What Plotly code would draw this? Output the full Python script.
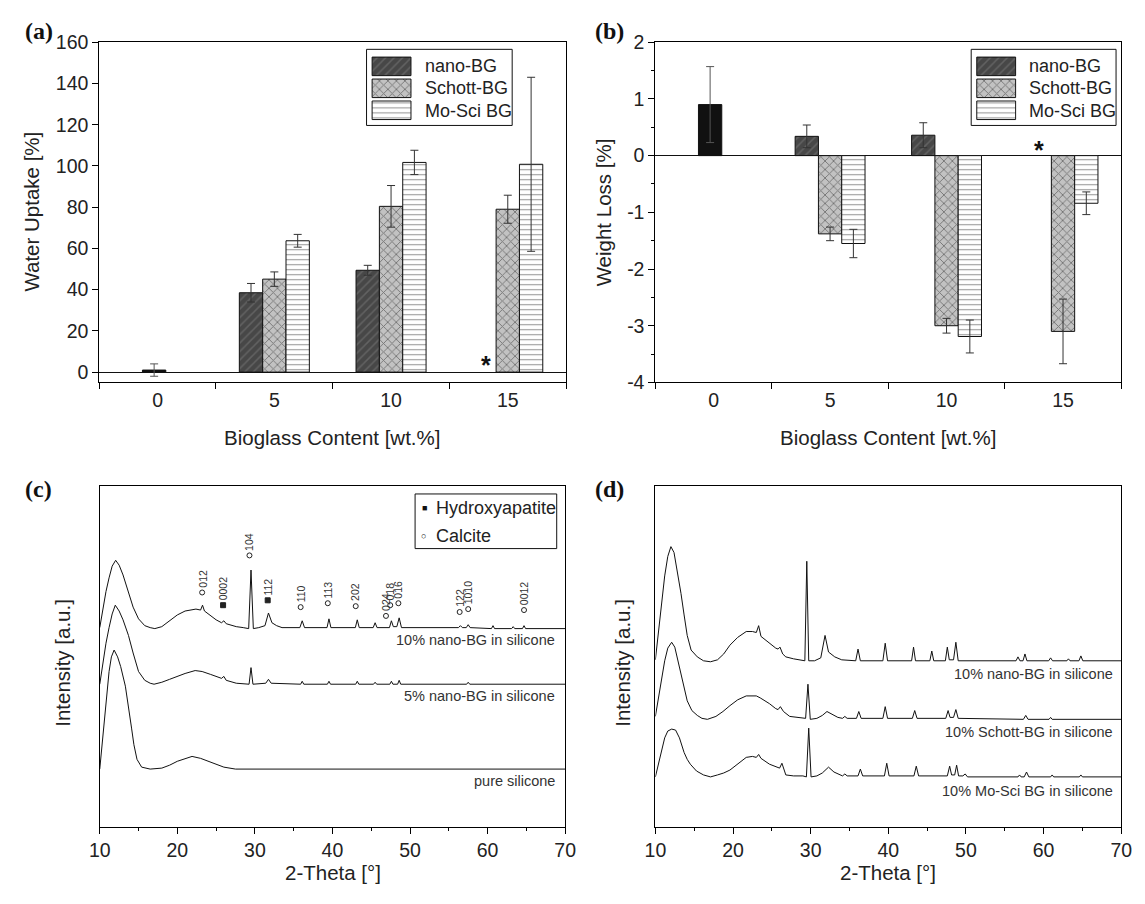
import plotly.graph_objects as go

W, H = 1145, 904
SANS = "Liberation Sans, Arial, sans-serif"
SERIF = "Liberation Serif, Times New Roman, serif"
TXT = "#222222"


def fx(p):
    return p / W


def fy(p):
    return 1 - p / H


# ---------------- (a) water uptake / (b) weight loss ----------------
content = ["0", "5", "10", "15"]
series_names = ["nano-BG", "Schott-BG", "Mo-Sci BG"]

pure_uptake = [1.0]
pure_uptake_err = [3.0]
nano_uptake = [None, 38.5, 49.4, None]
nano_uptake_err = [0, 4.5, 2.4, 0]
schott_uptake = [None, 45.1, 80.4, 79.0]
schott_uptake_err = [0, 3.5, 10.1, 6.8]
mosci_uptake = [None, 63.7, 101.7, 100.8]
mosci_uptake_err = [0, 3.1, 5.9, 42.2]

pure_loss = [0.90]
pure_loss_err = [0.67]
nano_loss = [None, 0.34, 0.36, None]
nano_loss_err = [0, 0.20, 0.22, 0]
schott_loss = [None, -1.38, -3.00, -3.10]
schott_loss_err = [0, 0.12, 0.13, 0.57]
mosci_loss = [None, -1.55, -3.19, -0.84]
mosci_loss_err = [0, 0.25, 0.29, 0.20]

loss_ticks = [-4, -3, -2, -1, 0, 1, 2]
loss_tick_text = ["-4", "-3", "-2", "-1", "0", "1", "2"]

# ---------------- (c) XRD nano-BG content ----------------
c_labels = ["10% nano-BG in silicone", "5% nano-BG in silicone", "pure silicone"]
c10_theta = [10.0, 10.4, 10.8, 11.2, 11.6, 12.05, 12.5, 13.0, 13.7, 14.3, 15.0, 15.8, 16.5, 17.1, 18.0,
             19.0, 20.0, 21.0, 22.4, 23.0, 23.25, 23.5, 24.3, 25.0, 25.7, 26.0, 26.3, 27.0, 27.6, 28.5,
             29.2, 29.5, 29.8, 30.5, 31.3, 31.75, 32.2, 32.8, 33.5, 35.8, 36.1, 36.4, 39.3, 39.55, 39.8,
             42.95, 43.2, 43.45, 45.25, 45.5, 45.75, 47.35, 47.6, 47.85, 48.3, 48.6, 48.9, 56.25, 56.5,
             56.75, 57.25, 57.5, 57.75, 60.5, 60.7, 60.9, 63.1, 63.3, 63.5, 64.5, 64.7, 64.9, 70.0]
c10_int = [1, 20, 38, 52, 64, 70, 65, 55, 37, 22, 10, 3, 1, 0, 2,
           8, 14, 18, 20, 19, 24, 18, 13, 9, 6, 8, 5, 3, 2, 1,
           0, 60, 0, 1, 3, 16, 6, 3, 1, 1, 8, 1, 1, 10, 1,
           1, 9, 1, 1, 6, 1, 1, 8, 2, 2, 11, 1, 1, 3,
           1, 1, 4, 1, 0, 3, 0, 0, 2, 0, 0, 3, 0, 0]
c5_theta = [10.0, 10.4, 10.8, 11.2, 11.6, 12.0, 12.5, 13.0, 13.7, 14.3, 15.0, 15.8, 16.5, 17.0, 18.0,
            19.0, 20.0, 21.0, 22.3, 23.2, 24.3, 25.7, 26.0, 26.3, 27.6, 29.25, 29.5, 29.75, 31.4, 31.75,
            32.1, 35.9, 36.1, 36.3, 39.35, 39.55, 39.75, 43.0, 43.2, 43.4, 45.3, 45.5, 45.7, 47.4, 47.6,
            47.8, 48.4, 48.6, 48.8, 57.3, 57.5, 57.7, 70.0]
c5_int = [0, 22, 42, 58, 72, 81, 75, 66, 50, 32, 13, 4, 1, 0, 2,
          5, 8, 11, 14, 13, 10, 6, 8, 4, 1, 0, 17, 0, 1, 5,
          1, 0, 3, 0, 0, 3, 0, 0, 3, 0, 0, 2, 0, 0, 3,
          0, 0, 4, 0, 0, 2, 0, 0]
c0_theta = [10.0, 10.4, 10.8, 11.2, 11.5, 11.85, 12.3, 12.7, 13.3, 13.7, 14.1, 14.4, 14.8, 15.4, 16.5,
            18.0, 19.0, 20.0, 21.0, 21.9, 23.0, 24.3, 25.2, 26.0, 27.5, 70.0]
c0_int = [0, 35, 70, 100, 115, 122, 115, 105, 85, 65, 42, 25, 10, 2, 0,
          1, 4, 8, 11, 13, 11, 7, 4, 2, 0, 0]
c_offsets = [203, 146, 59]

# calcite (C) / hydroxyapatite (H) reflections marked in (c)
peak_hkl = ["012", "0002", "104", "112", "110", "113", "202", "024", "018", "016", "122", "1010", "0012"]
peak_theta = [23.2, 25.9, 29.3, 31.65, 35.9, 39.4, 43.0, 46.9, 47.45, 48.5, 56.4, 57.5, 64.7]
peak_level = [240, 227, 278, 232, 225, 229, 226, 216, 227, 229, 220, 223, 222]
peak_phase = ["C", "H", "C", "H", "C", "C", "C", "C", "C", "C", "C", "C", "C"]

# ---------------- (d) XRD 10% of each bioglass ----------------
d_labels = ["10% nano-BG in silicone", "10% Schott-BG in silicone", "10% Mo-Sci BG in silicone"]
dn_theta = [10.0, 10.4, 10.8, 11.2, 11.6, 12.0, 12.4, 12.9, 13.3, 13.7, 14.1, 14.6, 15.4, 16.2, 17.1,
            18.0, 18.8, 19.6, 20.6, 21.7, 22.5, 23.0, 23.3, 23.6, 24.5, 25.5, 25.8, 26.05, 26.4, 26.8,
            27.8, 28.9, 29.25, 29.5, 29.75, 30.5, 31.3, 31.85, 32.3, 33.1, 34.0, 35.8, 36.1, 36.4, 39.3,
            39.6, 39.9, 43.0, 43.25, 43.5, 45.35, 45.6, 45.85, 47.35, 47.6, 47.85, 48.4, 48.7, 49.0,
            56.45, 56.7, 56.95, 57.35, 57.6, 57.85, 60.65, 60.9, 61.15, 63.0, 63.2, 63.4, 64.55, 64.8,
            65.05, 70.0]
dn_int = [2, 30, 60, 88, 108, 118, 112, 90, 70, 48, 27, 12, 5, 1, 0,
          2, 8, 17, 25, 31, 31, 30, 37, 26, 20, 14, 13, 15, 8, 5,
          3, 2, 1, 103, 1, 1, 4, 27, 10, 5, 2, 1, 13, 1, 1,
          19, 1, 1, 15, 1, 1, 11, 1, 1, 15, 2, 2, 20, 1,
          1, 5, 1, 1, 8, 1, 1, 4, 1, 1, 3, 1, 1, 6,
          1, 1]
ds_theta = [10.0, 10.4, 10.8, 11.2, 11.6, 12.1, 12.5, 12.9, 13.3, 13.7, 14.1, 14.7, 15.4, 16.0, 16.7,
            17.8, 18.7, 19.6, 20.6, 21.7, 22.5, 23.0, 23.5, 24.7, 25.5, 25.8, 26.1, 26.5, 27.3, 28.5,
            29.35, 29.65, 29.95, 30.8, 31.5, 32.1, 32.8, 33.5, 34.1, 34.4, 34.7, 35.9, 36.2, 36.5, 39.3,
            39.6, 39.9, 43.1, 43.4, 43.7, 47.4, 47.7, 47.95, 48.4, 48.7, 49.0, 57.4, 57.7, 58.0, 60.7,
            60.9, 61.1, 70.0]
ds_int = [3, 22, 42, 60, 73, 79, 74, 60, 46, 32, 19, 9, 4, 1, 0,
          3, 8, 14, 20, 24, 24, 24, 22, 16, 11, 10, 13, 8, 3, 2,
          1, 36, 0, 1, 4, 8, 5, 2, 1, 3, 1, 1, 8, 1, 1,
          13, 1, 1, 9, 1, 1, 9, 2, 2, 10, 1, 0, 4, 0, 0,
          2, 0, 0]
dm_theta = [10.0, 10.4, 10.8, 11.2, 11.6, 12.1, 12.6, 13.1, 13.7, 14.1, 14.5, 15.3, 16.2, 17.1, 18.0,
            18.8, 19.6, 20.6, 21.7, 22.5, 23.0, 23.3, 23.6, 24.7, 25.6, 26.0, 26.3, 26.6, 26.8, 27.8,
            29.0, 29.45, 29.75, 30.05, 30.8, 31.5, 32.3, 33.0, 34.1, 34.4, 34.7, 36.1, 36.4, 36.7, 39.5,
            39.8, 40.1, 43.3, 43.6, 43.9, 47.6, 47.9, 48.15, 48.55, 48.8, 49.05, 49.6, 49.9, 50.2, 56.7,
            56.9, 57.1, 57.5, 57.8, 58.1, 60.9, 61.1, 61.3, 64.6, 64.8, 65.0, 70.0]
dm_int = [0, 14, 28, 40, 47, 49, 48, 40, 25, 18, 13, 6, 2, 0, 2,
          4, 7, 13, 20, 21, 20, 23, 19, 13, 10, 9, 14, 5, 2, 1,
          1, 0, 50, 0, 1, 4, 10, 5, 1, 3, 1, 1, 8, 1, 1,
          14, 1, 1, 11, 1, 1, 11, 2, 2, 12, 1, 1, 3, 0, 0,
          2, 0, 0, 5, 0, 0, 2, 0, 0, 2, 0, 0]
d_offsets = [169, 110, 51]

# ---------------- styles ----------------
styles = [
    dict(color="#474747", line=dict(color="#111111", width=1),
         pattern=dict(shape="/", fgcolor="#7e7e7e", bgcolor="#474747", size=6, solidity=0.25)),
    dict(color="#c2c2c2", line=dict(color="#111111", width=1),
         pattern=dict(shape="x", fgcolor="#262626", bgcolor="#c2c2c2", size=6, solidity=0.28)),
    dict(color="white", line=dict(color="#111111", width=1),
         pattern=dict(shape="-", fgcolor="#333333", bgcolor="white", size=5, solidity=0.22)),
]
offsets = [-0.3, -0.1, 0.1]
err_style = dict(type="data", visible=True, color="#333333", thickness=1, width=4)

fig = go.Figure()

# ---- bars (a) and (b)
for xa, ya, pure, pure_err, vals, errs in [
    ("x", "y", pure_uptake, pure_uptake_err,
     [nano_uptake, schott_uptake, mosci_uptake],
     [nano_uptake_err, schott_uptake_err, mosci_uptake_err]),
    ("x2", "y2", pure_loss, pure_loss_err,
     [nano_loss, schott_loss, mosci_loss],
     [nano_loss_err, schott_loss_err, mosci_loss_err]),
]:
    fig.add_trace(go.Bar(x=content[:1], y=pure, width=0.2, offset=-0.13,
                         marker=dict(color="#111111", line=dict(color="#111111", width=1)),
                         error_y=dict(err_style, array=pure_err, color="#555555"),
                         xaxis=xa, yaxis=ya, name="pure silicone"))
    for i in range(3):
        fig.add_trace(go.Bar(x=content, y=vals[i], width=0.2, offset=offsets[i],
                             marker=styles[i], error_y=dict(err_style, array=errs[i]),
                             xaxis=xa, yaxis=ya, name=series_names[i]))

# ---- legend swatches for (a) and (b)
for xa, ya in [("x5", "y5"), ("x6", "y6")]:
    for i in range(3):
        fig.add_trace(go.Bar(x=[1], y=[i], orientation="h", width=0.845, marker=styles[i],
                             xaxis=xa, yaxis=ya, hoverinfo="skip", name=series_names[i]))

# ---- XRD curves
for th, it, off, lab in zip([c10_theta, c5_theta, c0_theta], [c10_int, c5_int, c0_int], c_offsets, c_labels):
    fig.add_trace(go.Scatter(x=th, y=[off + v for v in it], mode="lines",
                             line=dict(color="#111111", width=1), xaxis="x3", yaxis="y3", name=lab))
for th, it, off, lab in zip([dn_theta, ds_theta, dm_theta], [dn_int, ds_int, dm_int], d_offsets, d_labels):
    fig.add_trace(go.Scatter(x=th, y=[off + v for v in it], mode="lines",
                             line=dict(color="#111111", width=1), xaxis="x4", yaxis="y4", name=lab))

# ---- reflection markers
fig.add_trace(go.Scatter(
    x=peak_theta, y=peak_level, mode="markers", xaxis="x3", yaxis="y3", name="reflections",
    marker=dict(symbol=["square" if p == "H" else "circle-open" for p in peak_phase],
                size=5, color="#222222", line=dict(color="#222222", width=1))))

annotations = []


def ann(x, y, text, size, xanchor="center", yanchor="middle", angle=0, color=TXT, family=SANS,
        xref="paper", yref="paper", **kw):
    annotations.append(dict(x=x, y=y, xref=xref, yref=yref, text=text, showarrow=False,
                            xanchor=xanchor, yanchor=yanchor, textangle=angle,
                            font=dict(family=family, size=size, color=color), **kw))


# panel letters
ann(fx(12), fy(20), "<b>(a)</b>", 24, xanchor="left", family=SERIF, color="#111")
ann(fx(593), fy(20), "<b>(b)</b>", 24, xanchor="left", family=SERIF, color="#111")
ann(fx(12), fy(490), "<b>(c)</b>", 24, xanchor="left", family=SERIF, color="#111")
ann(fx(593), fy(490), "<b>(d)</b>", 24, xanchor="left", family=SERIF, color="#111")

# axis titles
ann(fx(328), fy(437), "Bioglass Content [wt.%]", 20.5)
ann(fx(894.5), fy(437), "Bioglass Content [wt.%]", 20.5)
ann(fx(328), fy(883), "2-Theta [°]", 20.5)
ann(fx(894.5), fy(883), "2-Theta [°]", 20.5)
ann(fx(21), fy(206), "Water Uptake [%]", 20.5, angle=-90)
ann(fx(605), fy(206), "Weight Loss [%]", 20.5, angle=-90)
ann(fx(53), fy(668), "Intensity [a.u.]", 20.5, angle=-90)
ann(fx(624), fy(668), "Intensity [a.u.]", 20.5, angle=-90)

# legends (a), (b)
for tx in [420, 1036.4]:
    for i, yy in enumerate([56, 79, 102]):
        ann(fx(tx), fy(yy), series_names[i], 18, xanchor="left")

# legend (c)
ann(fx(421.5), fy(509), "■", 9, color="#111")
ann(fx(421), fy(538), "○", 9, color="#111")
ann(fx(431), fy(509), "Hydroxyapatite", 18, xanchor="left")
ann(fx(431), fy(538), "Calcite", 18, xanchor="left")

# asterisks (no nano-BG sample at 15 wt.%); category index 3 = "15"
ann(3, 3.5, "<b>*</b>", 25, xref="x", yref="y", xshift=-22, color="#111")
ann(3, 0.1, "<b>*</b>", 25, xref="x2", yref="y2", xshift=-24, color="#111")

# curve labels
for lab, yy in zip(c_labels, [645, 701.7, 789]):
    ann(fx(557), fy(yy), lab, 14.5, xanchor="right", color="#333")
for lab, yy in zip(d_labels, [679.3, 739.3, 799.3]):
    ann(fx(1125.6), fy(yy), lab, 14.5, xanchor="right", color="#333")

# reflection labels
for hkl, th, lv in zip(peak_hkl, peak_theta, peak_level):
    ann(th, lv + 3, hkl, 10.5, yanchor="bottom", angle=-90, xref="x3", yref="y3", color="#333")

shapes = [
    dict(type="rect", xref="paper", yref="paper", x0=fx(362.5), x1=fx(511), y0=fy(117.3), y1=fy(39.3),
         line=dict(color="#111", width=1)),
    dict(type="rect", xref="paper", yref="paper", x0=fx(979), x1=fx(1126.7), y0=fy(117.3), y1=fy(39.3),
         line=dict(color="#111", width=1)),
    dict(type="rect", xref="paper", yref="paper", x0=fx(412), x1=fx(556.4), y0=fy(551), y1=fy(495),
         line=dict(color="#111", width=1)),
]

tickfont = dict(family=SANS, size=19.5, color=TXT)
base_axis = dict(showline=True, linecolor="black", linewidth=1, mirror=True, showgrid=False,
                 zeroline=False, ticks="outside", ticklen=6, tickwidth=1, tickcolor="black",
                 tickfont=tickfont, fixedrange=True)

ya_dom = [fy(380.7), fy(32)]
yc_dom = [fy(836), fy(487)]
xl_dom = [fx(90), fx(566)]
xr_dom = [fx(657), fx(1132)]
xc_dom = [fx(90.5), fx(565)]

fig.update_layout(
    width=W, height=H, margin=dict(l=0, r=0, t=0, b=0),
    paper_bgcolor="white", plot_bgcolor="white", showlegend=False,
    barmode="overlay",
    xaxis=dict(base_axis, domain=xl_dom, anchor="y", type="category", categoryorder="array",
               categoryarray=content, range=[-0.5, 3.5], tickson="boundaries"),
    yaxis=dict(base_axis, domain=ya_dom, anchor="x", range=[-5, 160], dtick=20, tick0=0,
               zeroline=True, zerolinecolor="#111", zerolinewidth=1),
    xaxis2=dict(base_axis, domain=xr_dom, anchor="y2", type="category", categoryorder="array",
                categoryarray=content, range=[-0.5, 3.5], tickson="boundaries"),
    yaxis2=dict(base_axis, domain=ya_dom, anchor="x2", range=[-4, 2], tickmode="array",
                tickvals=loss_ticks, ticktext=loss_tick_text,
                zeroline=True, zerolinecolor="#111", zerolinewidth=1,
                minor=dict(dtick=0.5, tick0=0, ticks="outside", ticklen=3, tickcolor="black")),
    xaxis3=dict(base_axis, domain=xc_dom, anchor="y3", range=[10, 70], dtick=10, tick0=10,
                minor=dict(dtick=5, ticks="outside", ticklen=3, tickcolor="black")),
    yaxis3=dict(base_axis, domain=yc_dom, anchor="x3", range=[0, 349], ticks="", showticklabels=False),
    xaxis4=dict(base_axis, domain=xr_dom, anchor="y4", range=[10, 70], dtick=10, tick0=10,
                minor=dict(dtick=5, ticks="outside", ticklen=3, tickcolor="black")),
    yaxis4=dict(base_axis, domain=yc_dom, anchor="x4", range=[0, 349], ticks="", showticklabels=False),
    xaxis5=dict(domain=[fx(367), fx(409)], anchor="y5", range=[-0.03, 1.03], visible=False, fixedrange=True),
    yaxis5=dict(domain=[fy(113), fy(45.5)], anchor="x5", range=[2.5, -0.5], visible=False, fixedrange=True),
    xaxis6=dict(domain=[fx(983.5), fx(1025.5)], anchor="y6", range=[-0.03, 1.03], visible=False, fixedrange=True),
    yaxis6=dict(domain=[fy(113), fy(45.5)], anchor="x6", range=[2.5, -0.5], visible=False, fixedrange=True),
    annotations=annotations,
    shapes=shapes,
    font=dict(family=SANS, color=TXT),
)

fig.write_html("out.html", config={"displayModeBar": False},
               post_script="document.body.style.margin='0px';document.body.style.overflow='hidden';")
